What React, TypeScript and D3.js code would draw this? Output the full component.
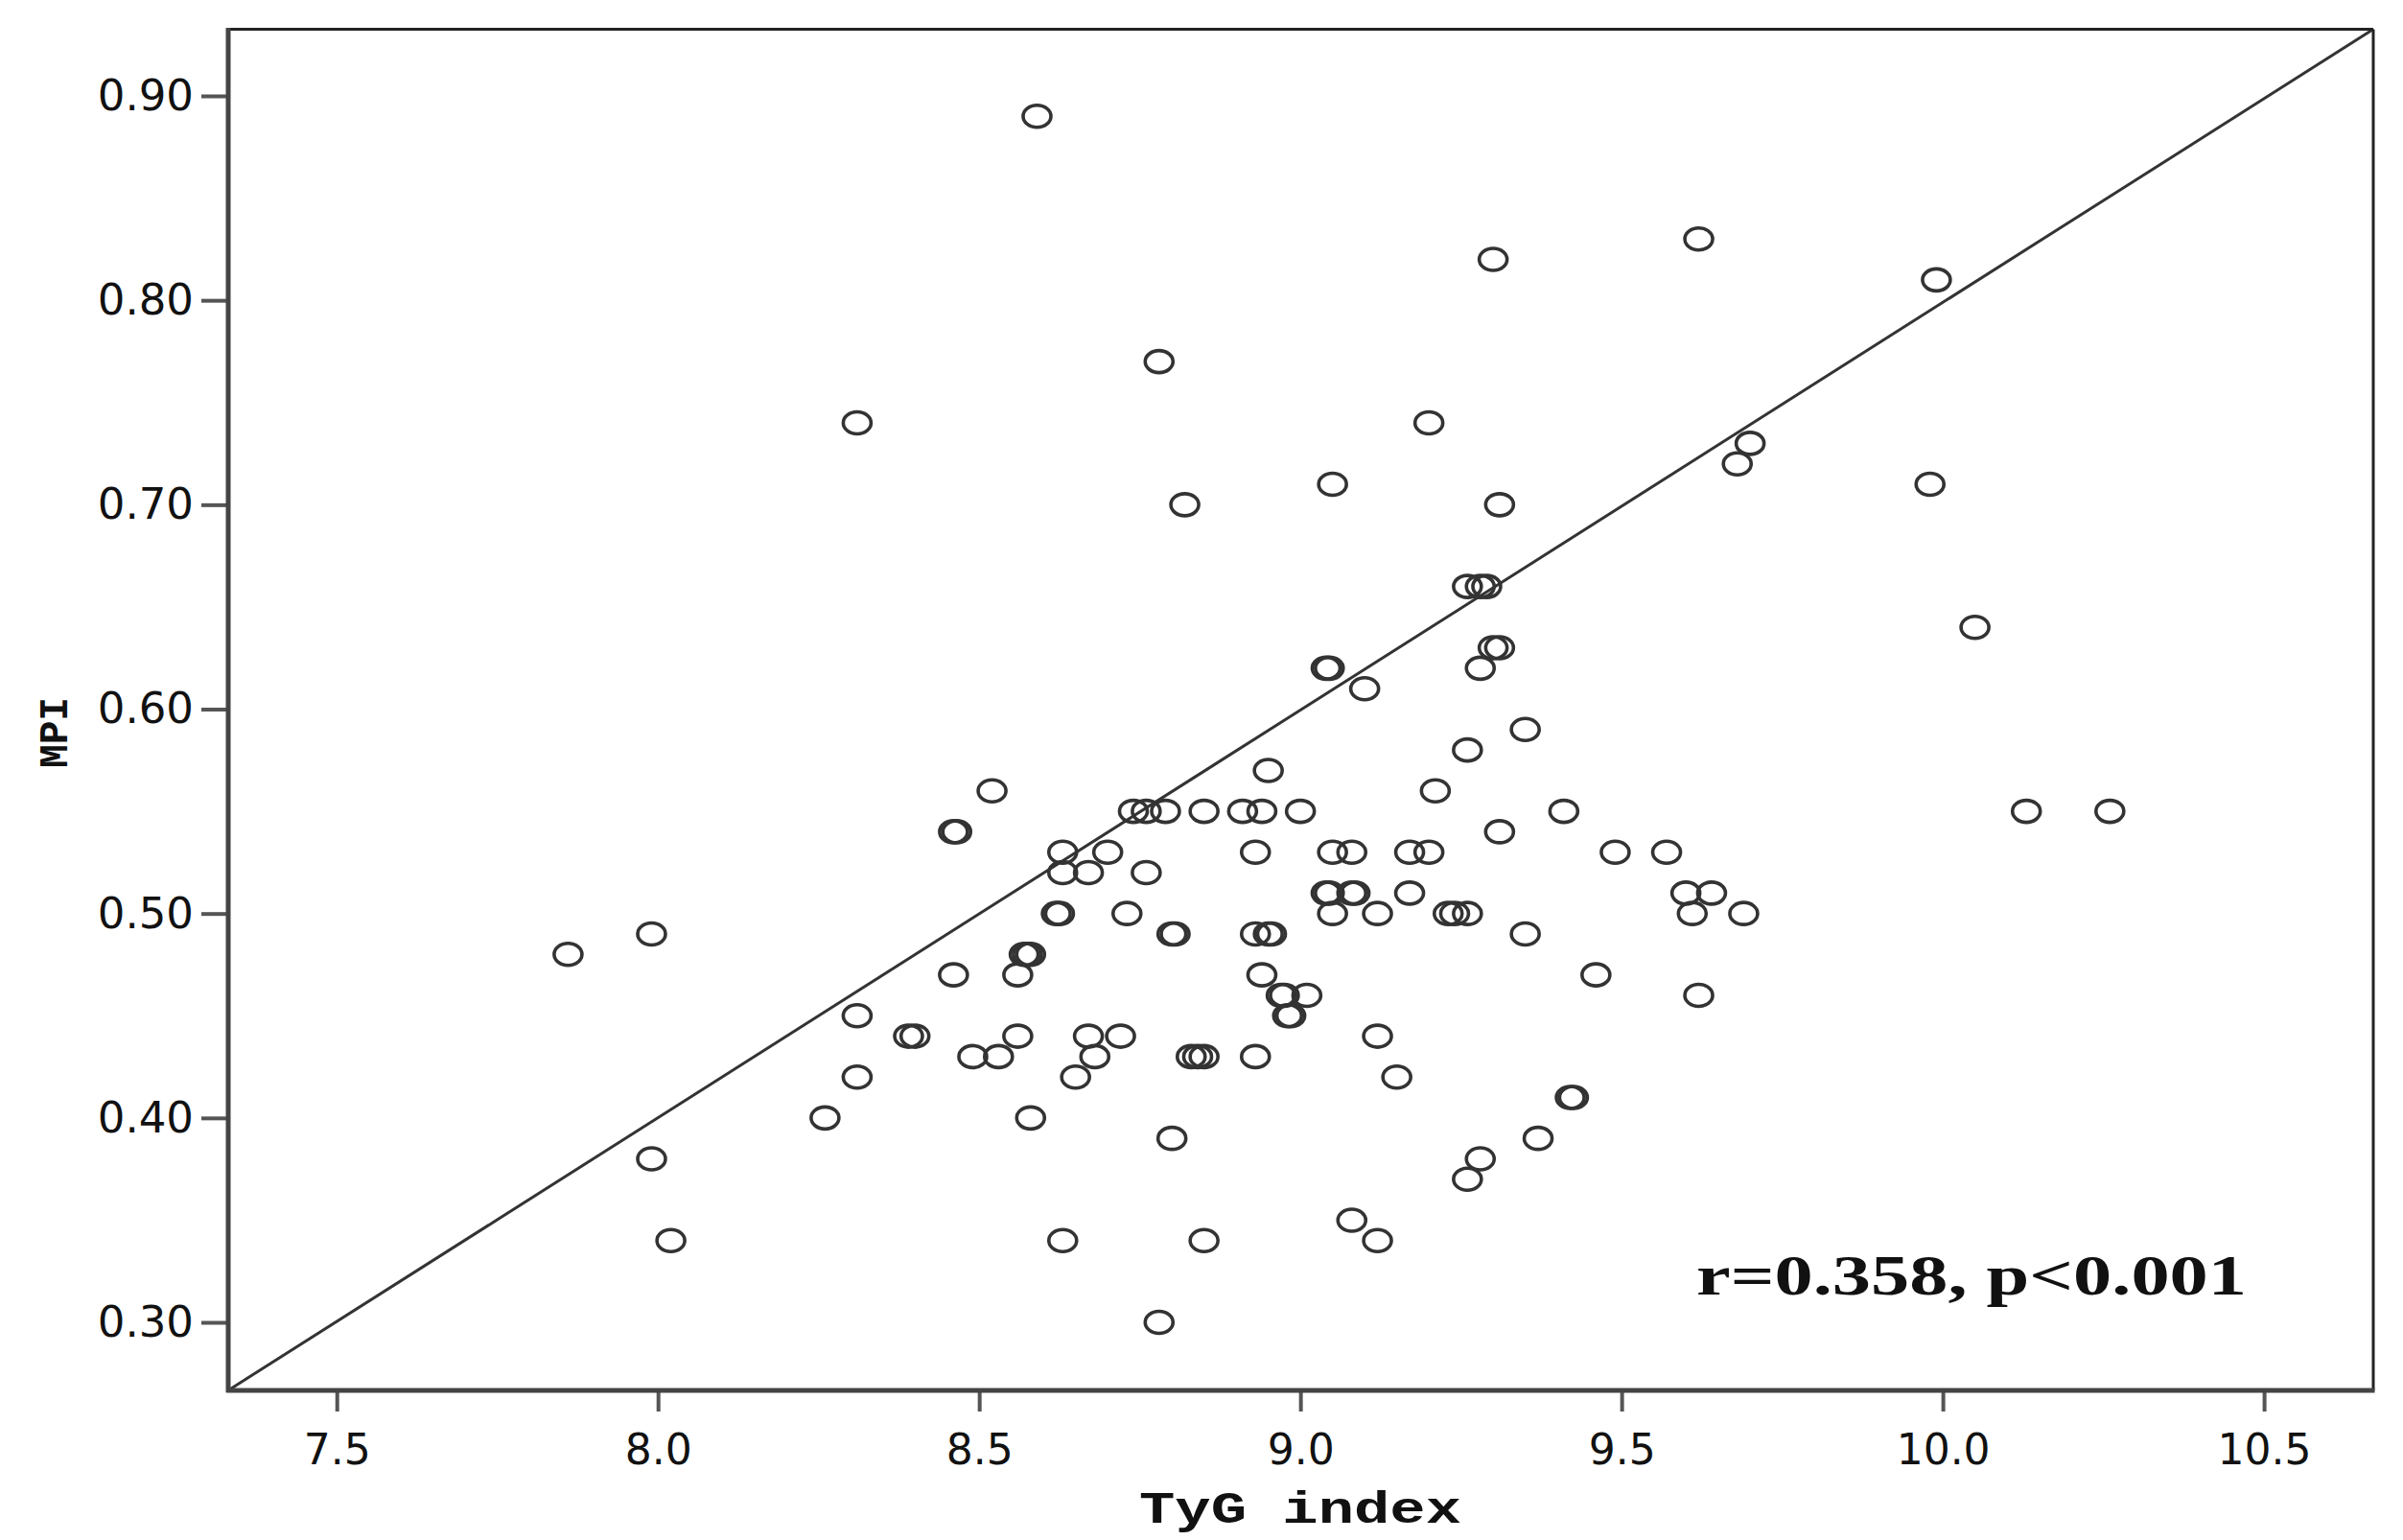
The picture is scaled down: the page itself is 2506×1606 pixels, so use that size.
import React, { useEffect, useRef } from "react";
import * as d3 from "d3";

const W = 2506;
const H = 1606;

const xTicks = [7.5, 8.0, 8.5, 9.0, 9.5, 10.0, 10.5];
const yTicks = [0.3, 0.4, 0.5, 0.6, 0.7, 0.8, 0.9];
const xDomain = [7.331, 10.67];
const yDomain = [0.2667, 0.9326];

const xLabel = "TyG index";
const yLabel = "MPI";
const annotation = "r=0.358, p<0.001";

// TyG index values
const tyg = [
  8.59, 9.62, 9.30, 9.99, 8.78, 8.31, 9.20, 9.70, 9.68, 9.05, 9.98, 8.82, 9.31,
  9.26, 9.28, 9.29, 10.05, 9.30, 9.31, 9.04, 9.045, 9.28, 9.10, 9.35, 9.26, 8.95,
  8.52, 9.21,
  8.74, 8.76, 8.79, 8.85, 8.91, 8.94, 9.00, 9.41, 10.13, 10.26,
  8.46, 8.465, 9.31,
  8.63, 8.70, 8.93, 9.05, 9.08, 9.17, 9.20, 9.49, 9.57,
  8.63, 8.67, 8.76,
  9.04, 9.045, 9.08, 9.085, 9.17, 9.60, 9.64,
  8.62, 8.625, 8.73, 9.05, 9.12, 9.23, 9.24, 9.26, 9.61, 9.69,
  7.99, 8.80, 8.805, 8.93, 8.95, 8.955, 9.35,
  7.86, 8.57, 8.575, 8.58,
  8.46, 8.56, 8.94, 9.46,
  8.97, 8.975, 9.01, 9.62,
  8.31, 8.98, 8.985,
  8.39, 8.40, 8.56, 8.67, 8.72, 9.12,
  8.49, 8.53, 8.68, 8.83, 8.84, 8.85, 8.93,
  8.31, 8.65, 9.15,
  9.42, 9.425,
  8.26, 8.58,
  8.80, 9.37,
  7.99, 9.28,
  9.26,
  9.08,
  8.02, 8.63, 8.85, 9.12,
  8.78,
];

// MPI values (same order)
const mpi = [
  0.89, 0.83, 0.82, 0.81, 0.77, 0.74, 0.74, 0.73, 0.72, 0.71, 0.71, 0.70, 0.70,
  0.66, 0.66, 0.66, 0.64, 0.63, 0.63, 0.62, 0.62, 0.62, 0.61, 0.59, 0.58, 0.57,
  0.56, 0.56,
  0.55, 0.55, 0.55, 0.55, 0.55, 0.55, 0.55, 0.55, 0.55, 0.55,
  0.54, 0.54, 0.54,
  0.53, 0.53, 0.53, 0.53, 0.53, 0.53, 0.53, 0.53, 0.53,
  0.52, 0.52, 0.52,
  0.51, 0.51, 0.51, 0.51, 0.51, 0.51, 0.51,
  0.50, 0.50, 0.50, 0.50, 0.50, 0.50, 0.50, 0.50, 0.50, 0.50,
  0.49, 0.49, 0.49, 0.49, 0.49, 0.49, 0.49,
  0.48, 0.48, 0.48, 0.48,
  0.47, 0.47, 0.47, 0.47,
  0.46, 0.46, 0.46, 0.46,
  0.45, 0.45, 0.45,
  0.44, 0.44, 0.44, 0.44, 0.44, 0.44,
  0.43, 0.43, 0.43, 0.43, 0.43, 0.43, 0.43,
  0.42, 0.42, 0.42,
  0.41, 0.41,
  0.40, 0.40,
  0.39, 0.39,
  0.38, 0.38,
  0.37,
  0.35,
  0.34, 0.34, 0.34, 0.34,
  0.30,
];

export default function App() {
  const ref = useRef<SVGSVGElement>(null);

  useEffect(() => {
    const svg = d3.select(ref.current);
    svg.selectAll("*").remove();

    const left = 238, right = 2475, top = 30.5, bottom = 1450;
    const x = d3.scaleLinear().domain(xDomain).range([left, right]);
    const y = d3.scaleLinear().domain(yDomain).range([bottom, top]);

    svg.append("rect").attr("width", W).attr("height", H).attr("fill", "#fff");

    // diagonal reference line
    svg.append("line")
      .attr("x1", x(xDomain[0])).attr("y1", y(yDomain[0]))
      .attr("x2", x(xDomain[1])).attr("y2", y(yDomain[1]))
      .attr("stroke", "#333").attr("stroke-width", 3);

    // points
    const data = tyg.map((v, i) => ({ x: v, y: mpi[i] }));
    svg.append("g").selectAll("ellipse").data(data).join("ellipse")
      .attr("cx", (d) => x(d.x)).attr("cy", (d) => y(d.y))
      .attr("rx", 14.5).attr("ry", 11.5)
      .attr("fill", "none").attr("stroke", "#333").attr("stroke-width", 3.6);

    // frame
    svg.append("line").attr("x1", left).attr("x2", right).attr("y1", top).attr("y2", top)
      .attr("stroke", "#222").attr("stroke-width", 3);
    svg.append("line").attr("x1", right).attr("x2", right).attr("y1", top).attr("y2", bottom)
      .attr("stroke", "#222").attr("stroke-width", 3);

    // x axis
    const xAxis = d3.axisBottom(x).tickValues(xTicks).tickFormat(d3.format(".1f"))
      .tickSize(22).tickPadding(24);
    const gx = svg.append("g").attr("transform", `translate(0,${bottom})`).call(xAxis);
    gx.select(".domain").remove();
    gx.selectAll(".tick line").attr("stroke", "#555").attr("stroke-width", 4);
    gx.selectAll(".tick text").attr("fill", "#111")
      .style("font-family", "'DejaVu Sans', sans-serif").style("font-size", "44px");

    // y axis
    const yAxis = d3.axisLeft(y).tickValues(yTicks).tickFormat(d3.format(".2f"))
      .tickSize(28).tickPadding(8);
    const gy = svg.append("g").attr("transform", `translate(${left},0)`).call(yAxis);
    gy.select(".domain").remove();
    gy.selectAll(".tick line").attr("stroke", "#555").attr("stroke-width", 4);
    gy.selectAll(".tick text").attr("fill", "#111")
      .style("font-family", "'DejaVu Sans', sans-serif").style("font-size", "45px");

    // heavy left/bottom axes
    svg.append("line").attr("x1", left).attr("x2", left).attr("y1", top - 1.5).attr("y2", bottom + 2)
      .attr("stroke", "#444").attr("stroke-width", 5);
    svg.append("line").attr("x1", left - 2).attr("x2", right + 1.5).attr("y1", bottom).attr("y2", bottom)
      .attr("stroke", "#444").attr("stroke-width", 5);

    // axis titles
    svg.append("text").text(xLabel)
      .attr("x", 1188).attr("y", 1588)
      .attr("textLength", 336).attr("lengthAdjust", "spacingAndGlyphs")
      .style("font-family", "'Liberation Mono', 'Courier New', monospace")
      .style("font-weight", "bold").style("font-size", "46px").attr("fill", "#111");

    svg.append("text").text(yLabel)
      .attr("transform", `translate(70,801) rotate(-90)`)
      .attr("textLength", 74).attr("lengthAdjust", "spacingAndGlyphs")
      .style("font-family", "'Liberation Mono', 'Courier New', monospace")
      .style("font-weight", "bold").style("font-size", "42px").attr("fill", "#111");

    // annotation
    svg.append("text").text(annotation)
      .attr("x", 1769).attr("y", 1350)
      .attr("textLength", 574).attr("lengthAdjust", "spacingAndGlyphs")
      .style("font-family", "'Liberation Serif', 'Times New Roman', serif")
      .style("font-weight", "bold").style("font-size", "60px").attr("fill", "#111");
  }, []);

  return (
    <svg
      ref={ref}
      width={W}
      height={H}
      style={{ position: "absolute", left: 0, top: 0, display: "block" }}
    />
  );
}
